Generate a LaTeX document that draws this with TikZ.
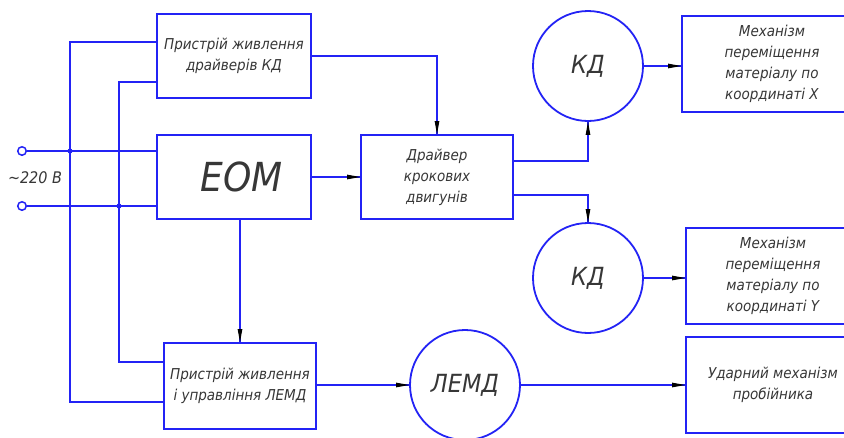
\documentclass[tikz,border=0pt]{standalone}
\usepackage{fontspec}
\setmainfont{DejaVu Sans Condensed}
\newfontfamily\gost{DejaVu Sans Condensed Oblique}
\usetikzlibrary{calc}
\definecolor{ln}{RGB}{35,35,245}
\definecolor{tx}{RGB}{55,55,55}
\begin{document}
\begin{tikzpicture}[x=1pt,y=-1pt,
  box/.style={draw=ln, line width=1.8pt, rectangle, inner sep=0pt, align=center,
              font=\gost\fontsize{15}{21}\selectfont, text=tx},
  circ/.style={draw=ln, line width=1.8pt, circle, minimum size=110pt, inner sep=0pt, text=tx,
               font=\gost\fontsize{25}{25}\selectfont},
  wire/.style={draw=ln, line width=1.8pt},
  term/.style={circle, draw=ln, fill=white, minimum size=8.5pt, inner sep=0pt, line width=1.5pt},
  jdot/.style={circle, fill=ln, minimum size=5pt, inner sep=0pt}]
\useasboundingbox (0,0) rectangle (844,437);
\clip (0,0) rectangle (844,437);
\fill[white] (0,0) rectangle (844,437);

% blocks
\node[box, minimum width=154pt, minimum height=84pt] (pd) at (234,56) {Пристрій живлення\\драйверів КД};
\node[box, minimum width=154pt, minimum height=84pt] (eom) at (234,177) {};
\node[font=\gost\fontsize{40}{40}\selectfont, text=tx] (eomt) at (242,177) {ЕОМ};
\node[box, minimum width=152pt, minimum height=84pt] (drv) at (437,177) {Драйвер\\крокових\\двигунів};
\node[circ] (kd1) at (588,66) {КД};
\node[circ] (kd2) at (588,278) {КД};
\node[box, minimum width=180pt, minimum height=96pt] (mx) at (772,64) {Механізм\\переміщення\\матеріалу по\\координаті X};
\node[box, minimum width=174pt, minimum height=96pt] (my) at (773,276) {Механізм\\переміщення\\матеріалу по\\координаті Y};
\node[box, minimum width=174pt, minimum height=96pt] (ud) at (773,385) {Ударний механізм\\пробійника};
\node[box, minimum width=152pt, minimum height=86pt] (lp) at (240,386) {Пристрій живлення\\і управління ЛЕМД};
\node[circ] (lemd) at (465,385) {ЛЕМД};

% supply
\node[term] (t1) at (22,151) {};
\node[term] (t2) at (22,206) {};
\node[font=\gost\fontsize{16}{16}\selectfont, text=tx] (v) at (35,178) {\textasciitilde220 В};
\coordinate (v1t) at (70,42);
\coordinate (v1b) at (70,402);
\coordinate (v2t) at (119,82);
\coordinate (v2b) at (119,362);

\draw[wire] (t1.east) -- (eom.west |- t1);
\draw[wire] (t2.east) -- (eom.west |- t2);
\draw[wire] (pd.west |- v1t) -- (v1t) -- (v1b) -- (lp.west |- v1b);
\draw[wire] (pd.west |- v2t) -- (v2t) -- (v2b) -- (lp.west |- v2b);
\node[jdot] (j1) at (v1t |- t1) {};
\node[jdot] (j2) at (v2t |- t2) {};

% signal connectors
\draw[wire] (pd.east) -| (drv.north);
\draw[wire] (eom.east) -- (drv.west |- eom.east);
\draw[wire] ([yshift=16pt]drv.east) -| (kd1.south);
\draw[wire] ([yshift=-18pt]drv.east) -| (kd2.north);
\draw[wire] (kd1.east) -- (mx.west |- kd1.east);
\draw[wire] (kd2.east) -- (my.west |- kd2.east);
\draw[wire] (lp.north |- eom.south) -- (lp.north);
\draw[wire] (lp.east |- lemd.west) -- (lemd.west);
\draw[wire] (lemd.east) -- (ud.west);

% arrow heads
\fill[black] (drv.north) -- ++(-2.4,-13) -- ++(4.8,0) -- cycle;
\fill[black] (drv.west |- eom.east) -- ++(-13,-2.4) -- ++(0,4.8) -- cycle;
\fill[black] (kd1.south) -- ++(-2.4,13) -- ++(4.8,0) -- cycle;
\fill[black] (kd2.north) -- ++(-2.4,-13) -- ++(4.8,0) -- cycle;
\fill[black] (mx.west |- kd1.east) -- ++(-13,-2.4) -- ++(0,4.8) -- cycle;
\fill[black] (my.west |- kd2.east) -- ++(-13,-2.4) -- ++(0,4.8) -- cycle;
\fill[black] (lp.north) -- ++(-2.4,-13) -- ++(4.8,0) -- cycle;
\fill[black] (lemd.west) -- ++(-13,-2.4) -- ++(0,4.8) -- cycle;
\fill[black] (ud.west) -- ++(-13,-2.4) -- ++(0,4.8) -- cycle;
\end{tikzpicture}
\end{document}
